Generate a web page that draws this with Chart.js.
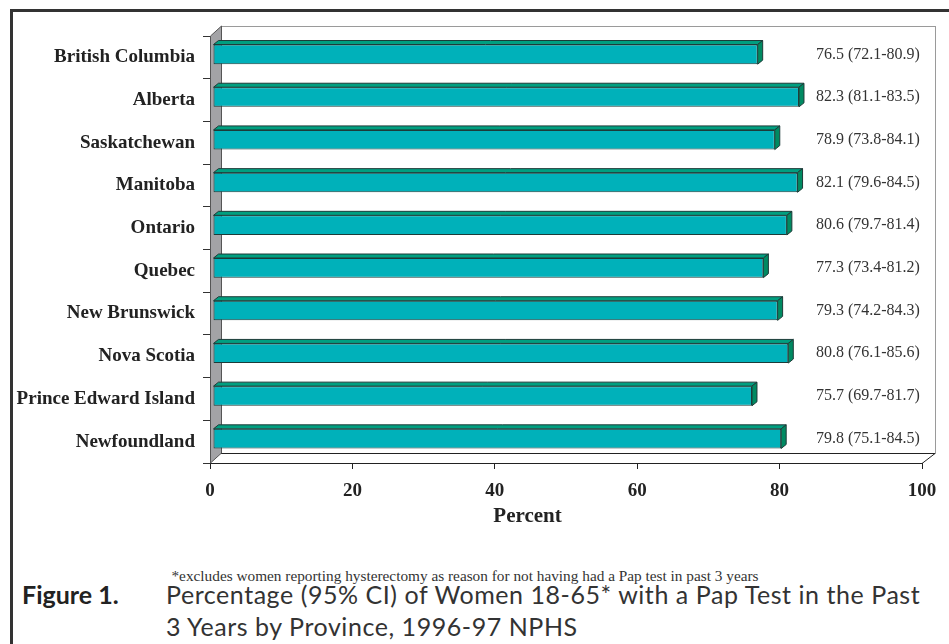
<!DOCTYPE html>
<html>
<head>
<meta charset="utf-8">
<script src="https://cdn.jsdelivr.net/npm/chart.js@4"></script>
<style>
  html, body { margin: 0; padding: 0; background: #fff; }
  #page { position: relative; width: 949px; height: 644px; overflow: hidden; }
  #frame { position: absolute; left: 10px; top: 9px; width: 960px; height: 660px;
           border-top: 3px solid #333; border-left: 3px solid #333; }
  #chartBox { position: absolute; left: 0; top: 0; width: 949px; height: 540px; }
  #note { position: absolute; left: 0; width: 930px; top: 567px; text-align: center;
          font: 15.3px "Liberation Serif", serif; color: #333; }
  #fig { position: absolute; left: 22px; top: 578px; font: bold 25px Lato, sans-serif;
         color: #222; line-height: 32px; }
  #cap { position: absolute; left: 166px; top: 578px; font: 25px Lato, sans-serif;
         letter-spacing: 0.55px; color: #333; line-height: 32px; }
</style>
</head>
<body>
<div id="page">
  <div id="frame"></div>
  <div id="chartBox"><canvas id="chart" width="949" height="540"></canvas></div>
  <div id="note">*excludes women reporting hysterectomy as reason for not having had a Pap test in past 3 years</div>
  <div id="fig">Figure 1.</div>
  <div id="cap">Percentage (95% CI) of Women 18-65* with a Pap Test in the Past<br>3 Years by Province, 1996-97 NPHS</div>
</div>
<script>
var provinces = ["British Columbia", "Alberta", "Saskatchewan", "Manitoba", "Ontario", "Quebec",
                 "New Brunswick", "Nova Scotia", "Prince Edward Island", "Newfoundland"];
var percent = [76.5, 82.3, 78.9, 82.1, 80.6, 77.3, 79.3, 80.8, 75.7, 79.8];
var ciLow = [72.1, 81.1, 73.8, 79.6, 79.7, 73.4, 74.2, 76.1, 69.7, 75.1];
var ciHigh = [80.9, 83.5, 84.1, 84.5, 81.4, 81.2, 84.3, 85.6, 81.7, 84.5];
var xTicks = [0, 20, 40, 60, 80, 100];
var axisTitle = "Percent";

var ciLabels = percent.map(function (v, i) {
    return v.toFixed(1) + " (" + ciLow[i].toFixed(1) + "-" + ciHigh[i].toFixed(1) + ")";
});

// depth of the 3d box and of the bars
var WALL_DX = 11, WALL_DY = 10;
var BAR_DX = 5, BAR_DY = 4;
var SHIFT_X = 3, SHIFT_Y = -3;

var boxPlugin = {
    id: "box3d",
    beforeDatasetsDraw: function (chart) {
        var ctx = chart.ctx, a = chart.chartArea;
        ctx.save();
        // back wall
        ctx.strokeStyle = "#9a9a9a";
        ctx.lineWidth = 1;
        ctx.strokeRect(a.left + WALL_DX + 0.5, a.top - WALL_DY + 0.5, a.right - a.left + 2, a.bottom - a.top);
        // floor
        ctx.strokeStyle = "#222";
        ctx.beginPath();
        ctx.moveTo(a.left, a.bottom + 0.5);
        ctx.lineTo(a.right, a.bottom + 0.5);
        ctx.lineTo(a.right + WALL_DX + 2, a.bottom - WALL_DY + 0.5);
        ctx.lineTo(a.left + WALL_DX, a.bottom - WALL_DY + 0.5);
        ctx.stroke();
        // left wall
        ctx.fillStyle = "#a3a3a6";
        ctx.strokeStyle = "#555";
        ctx.beginPath();
        ctx.moveTo(a.left + 0.5, a.top);
        ctx.lineTo(a.left + WALL_DX + 0.5, a.top - WALL_DY);
        ctx.lineTo(a.left + WALL_DX + 0.5, a.bottom - WALL_DY);
        ctx.lineTo(a.left + 0.5, a.bottom);
        ctx.closePath();
        ctx.fill();
        ctx.stroke();
        ctx.restore();
    },
    beforeDatasetDraw: function (chart) {
        chart.ctx.save();
        chart.ctx.translate(SHIFT_X, SHIFT_Y);
    },
    afterDatasetDraw: function (chart) {
        var ctx = chart.ctx;
        var meta = chart.getDatasetMeta(0);
        meta.data.forEach(function (bar) {
            var p = bar.getProps(["x", "y", "base", "height"], true);
            var left = p.base, right = p.x, top = p.y - p.height / 2, bottom = p.y + p.height / 2;
            ctx.lineWidth = 1;
            ctx.strokeStyle = "#1d3b38";
            ctx.fillStyle = "#009f80";
            ctx.beginPath();
            ctx.moveTo(left, top);
            ctx.lineTo(left + BAR_DX, top - BAR_DY);
            ctx.lineTo(right + BAR_DX, top - BAR_DY);
            ctx.lineTo(right, top);
            ctx.closePath();
            ctx.fill();
            ctx.stroke();
            ctx.fillStyle = "#008a62";
            ctx.beginPath();
            ctx.moveTo(right, top);
            ctx.lineTo(right + BAR_DX, top - BAR_DY);
            ctx.lineTo(right + BAR_DX, bottom - BAR_DY);
            ctx.lineTo(right, bottom);
            ctx.closePath();
            ctx.fill();
            ctx.stroke();
        });
        ctx.restore();
    },
    afterDraw: function (chart) {
        var ctx = chart.ctx, xs = chart.scales.x, ys = chart.scales.y;
        ctx.save();
        ctx.fillStyle = "#333";
        ctx.font = "16px 'Liberation Serif', serif";
        ctx.textAlign = "left";
        ctx.textBaseline = "middle";
        ciLabels.forEach(function (t, i) {
            ctx.fillText(t, xs.getPixelForValue(85.1), ys.getPixelForValue(i) - 3);
        });
        ctx.fillStyle = "#222";
        ctx.font = "bold 21px 'Liberation Serif', serif";
        ctx.textAlign = "center";
        ctx.textBaseline = "alphabetic";
        ctx.fillText(axisTitle, xs.getPixelForValue(44.6), 522);
        ctx.restore();
    }
};

new Chart(document.getElementById("chart"), {
    type: "bar",
    data: {
        labels: provinces,
        datasets: [{
            data: percent,
            backgroundColor: "#00b1ba",
            borderColor: "#1d3b38",
            borderWidth: 1,
            borderSkipped: false,
            categoryPercentage: 1,
            barPercentage: 0.46
        }]
    },
    options: {
        indexAxis: "y",
        responsive: false,
        animation: false,
        layout: { padding: { top: 36, right: 27, left: 0, bottom: 0 } },
        plugins: { legend: { display: false }, tooltip: { enabled: false } },
        scales: {
            x: {
                min: 0, max: 100,
                afterBuildTicks: function (axis) { axis.ticks = xTicks.map(function (v) { return { value: v }; }); },
                afterFit: function (axis) { axis.height = 77; },
                border: { display: false },
                grid: { drawOnChartArea: false, tickLength: 6, color: "#222" },
                ticks: { padding: 11, color: "#222", font: { family: "'Liberation Serif', serif", size: 19, weight: "bold" } }
            },
            y: {
                afterFit: function (axis) { axis.width = 210; },
                border: { display: false },
                grid: { drawOnChartArea: false, offset: true, tickLength: 7, color: "#333" },
                ticks: { padding: 8, color: "#222", font: { family: "'Liberation Serif', serif", size: 19, weight: "bold" } }
            }
        }
    },
    plugins: [boxPlugin]
});
</script>
</body>
</html>
